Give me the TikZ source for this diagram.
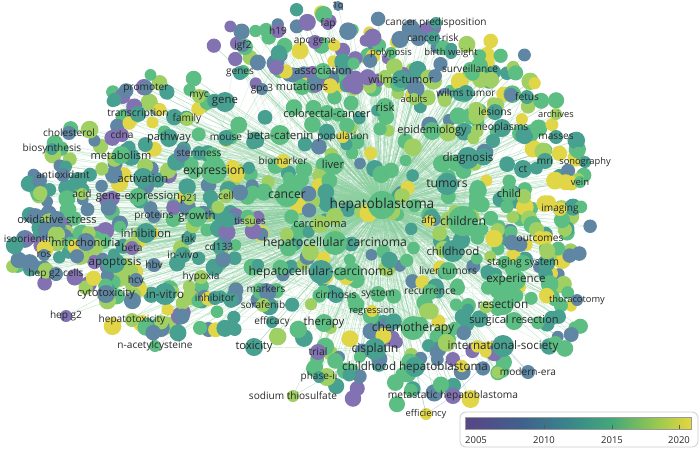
\documentclass[tikz,border=0pt]{standalone}
\usepackage{fontspec}
\setmainfont{Open Sans}
\definecolor{vA}{RGB}{130,114,178}
\definecolor{vB}{RGB}{95,134,162}
\definecolor{vC}{RGB}{72,160,145}
\definecolor{vD}{RGB}{92,190,130}
\definecolor{vE}{RGB}{160,208,100}
\definecolor{vF}{RGB}{224,214,72}
\definecolor{edgec}{RGB}{140,208,160}
\definecolor{edgeblue}{RGB}{120,140,190}
\definecolor{lblc}{RGB}{40,40,40}
\definecolor{legb}{RGB}{205,205,205}
\pgfdeclarehorizontalshading{viridisbar}{100bp}{rgb(0bp)=(0.35,0.27,0.53); rgb(25bp)=(0.35,0.27,0.53); rgb(37.5bp)=(0.25,0.38,0.55); rgb(47.5bp)=(0.22,0.52,0.55); rgb(57.5bp)=(0.26,0.66,0.47); rgb(67.5bp)=(0.60,0.79,0.31); rgb(75bp)=(0.90,0.84,0.24); rgb(100bp)=(0.90,0.84,0.24)}
\pgfmathdeclarerandomlist{pcore}{{vB}{vC}{vC}{vC}{vD}{vD}{vD}{vD}{vD}{vE}{vE}{vF}}
\pgfmathdeclarerandomlist{pleft}{{vA}{vB}{vB}{vC}{vC}{vC}{vD}{vD}{vE}{vE}{vF}}
\pgfmathdeclarerandomlist{ptop}{{vA}{vA}{vA}{vB}{vB}{vC}{vD}{vD}{vE}{vF}}
\pgfmathdeclarerandomlist{pright}{{vB}{vC}{vC}{vD}{vD}{vD}{vE}{vE}{vF}{vF}}
\pgfmathdeclarerandomlist{pbot}{{vA}{vB}{vB}{vC}{vD}{vD}{vE}{vF}}
\pgfmathdeclarerandomlist{hubs}{{cancer}{hcca}{hccb}{children}{chemotherapy}{expression}{liver}{tumors}{hb}{hb}}
\tikzset{
  edge/.style={draw=edgec, line width=0.45pt, opacity=0.5},
  edgeb/.style={draw=edgec, line width=0.4pt, opacity=0.32},
  edgebl/.style={draw=edgeblue, line width=0.45pt, opacity=0.4},
  lbl/.style={text=lblc, inner sep=0pt},
  yearlbl/.style={text=lblc, font=\fontsize{9.5}{11}\selectfont, inner sep=0pt},
}
\newif\ifcloudedges
% filler cloud: prefix, count, cx, cy, rx, ry, palette
\newcommand\fillcloud[7]{%
  \foreach \k in {1,...,#2}{%
    \pgfmathsetmacro\ang{360*rnd}%
    \pgfmathsetmacro\rr{sqrt(rnd)}%
    \pgfmathsetmacro\px{#3+#5*\rr*cos(\ang)}%
    \pgfmathsetmacro\py{#4+#6*\rr*sin(\ang)}%
    \pgfmathsetmacro\rad{5.8+3.2*rnd}%
    \pgfmathrandomitem\col{#7}%
    \pgfmathrandomitem\hub{hubs}%
    \ifcloudedges
      \coordinate (#1-\k) at (\px,\py);
      \draw[edge] (hb) -- (#1-\k);
      \draw[edgeb] (\hub) -- (#1-\k);
    \else
      \fill[fill=\col] (#1-\k) circle (\rad);
    \fi
  }%
}
\newcommand\allclouds{%
\fillcloud{a}{230}{370}{215}{165}{150}{pcore}%
\fillcloud{b}{160}{140}{205}{120}{95}{pleft}%
\fillcloud{c}{30}{55}{255}{50}{30}{pleft}%
\fillcloud{d}{90}{330}{50}{125}{42}{ptop}%
\fillcloud{e}{50}{475}{85}{65}{50}{pright}%
\fillcloud{f}{100}{530}{200}{62}{115}{pright}%
\fillcloud{g}{60}{410}{365}{105}{42}{pbot}%
\fillcloud{h}{40}{175}{310}{85}{30}{pleft}%
\fillcloud{i}{18}{560}{315}{25}{35}{pright}%
\fillcloud{j}{22}{170}{95}{60}{25}{pleft}%
}
% name / x / y / radius / colour / font size / text
\newcommand\kwlist{%
hb/382/205/14/vD/13.7/hepatoblastoma,
cancer/287/195/12/vD/12.2/cancer,
hcca/335/243/12/vD/12.2/hepatocellular carcinoma,
hccb/321/272/12/vC/12.2/hepatocellular-carcinoma,
children/463/221/15/vD/12.2/children,
chemotherapy/413/328/12/vD/12.2/chemotherapy,
expression/214/171/13/vD/12.2/expression,
liver/333/164/11/vD/11.2/liver,
tumors/447/184/11/vC/12.2/tumors,
cisplatin/375/349/11/vC/12.2/cisplatin,
oneq/338/6/5/vB/9.3/1q,
fap/328/24/6/vA/10.1/fap,
cancerpred/436/23/6/vC/10.1/cancer predisposition,
hnineteen/278/31/7/vA/10.1/h19,
apcgene/315/42/7/vA/10.1/apc gene,
cancerrisk/433/38/7/vC/10.1/cancer-risk,
igf/243/46/6/vB/10.1/igf2,
polyposis/391/53/6/vD/9.5/polyposis,
birthweight/451/53/6/vC/9.5/birth weight,
genes/240/73/7/vC/10.1/genes,
association/323/71/8/vD/11/association,
surveillance/470/69/7/vD/10.1/surveillance,
wilmsa/401/79/9/vC/11/wilms-tumor,
gpc/262/89/6/vB/10.1/gpc3,
mutations/302/87/8/vD/11/mutations,
adults/414/99/6/vE/9.3/adults,
wilmsb/466/93/8/vC/10.1/wilms tumor,
fetus/527/97/7/vC/10.1/fetus,
promoter/146/88/7/vB/10.1/promoter,
myc/199/96/7/vE/10.1/myc,
gene/225/102/10/vC/11.4/gene,
risk/385/107/9/vD/11.4/risk,
colorectal/327/113/8/vD/11/colorectal-cancer,
family/187/119/7/vE/10.1/family,
transcription/138/114/8/vC/10.3/transcription,
lesions/495/112/8/vC/10.3/lesions,
archives/556/114/6/vE/9.3/archives,
cholesterol/69/133/7/vB/10.1/cholesterol,
cdna/122/135/7/vA/10.1/cdna,
pathway/169/138/9/vC/11/pathway,
mouse/226/138/8/vC/10.1/mouse,
betacatenin/280/135/10/vD/11.4/beta-catenin,
population/343/137/6/vF/10.1/population,
epidemiology/432/131/9/vD/11/epidemiology,
neoplasms/502/128/9/vC/10.4/neoplasms,
masses/556/137/7/vC/10.1/masses,
biosynthesis/52/149/6/vC/10.1/biosynthesis,
metabolism/121/155/9/vD/11/metabolism,
stemness/199/153/7/vC/10.1/stemness,
biomarker/283/161/7/vF/10.1/biomarker,
diagnosis/468/158/11/vC/11.6/diagnosis,
mri/545/161/8/vC/10.1/mri,
sonography/585/162/6/vC/9.3/sonography,
ct/523/169/9/vC/10.3/ct,
antioxidant/63/175/7/vB/10.1/antioxidant,
activation/143/178/10/vC/11.2/activation,
vein/580/182/6/vD/9.5/vein,
child/509/193/9/vD/11/child,
acid/82/194/6/vE/10.1/acid,
geneexpression/138/197/9/vD/11/gene-expression,
ptwentyone/189/199/6/vE/10.1/p21,
cell/226/196/7/vE/10.1/cell,
imaging/560/209/7/vF/10.1/imaging,
oxstress/57/219/8/vB/11/oxidative stress,
proteins/154/216/7/vB/10.1/proteins,
growth/197/217/10/vD/11.4/growth,
tissues/250/221/6/vE/9.8/tissues,
carcinoma/320/224/9/vE/11/carcinoma,
afp/429/221/6/vF/10.1/afp,
isoorientin/29/239/6/vA/10.1/isoorientin,
mitochondria/86/242/9/vB/11/mitochondria,
inhibition/146/233/10/vC/11.4/inhibition,
fak/188/239/6/vC/10.1/fak,
cdonethree/219/247/7/vC/10.1/cd133,
outcomes/540/238/7/vF/10.1/outcomes,
beta/132/248/7/vA/10.1/beta,
childhood/453/251/11/vC/11.4/childhood,
invivo/183/255/8/vC/10.3/in-vivo,
ros/44/255/6/vB/10.1/ros,
apoptosis/115/263/10/vC/11.6/apoptosis,
hbv/154/265/7/vB/10.1/hbv,
staging/523/263/8/vD/10.4/staging system,
livertumors/448/271/9/vD/10.3/liver tumors,
hepgcells/56/274/7/vB/10.1/hep g2 cells,
hypoxia/201/277/7/vE/10.1/hypoxia,
hcv/136/280/7/vB/10.1/hcv,
experience/516/280/10/vD/11.6/experience,
markers/266/289/6/vB/10.1/markers,
recurrence/430/292/8/vD/10.3/recurrence,
cirrhosis/336/295/8/vC/10.3/cirrhosis,
system/378/294/8/vD/10.3/system,
cytotoxicity/106/294/9/vB/11/cytotoxicity,
invitro/165/294/11/vC/11.6/in-vitro,
inhibitor/215/298/7/vC/10.1/inhibitor,
thoracotomy/577/300/6/vB/9.3/thoracotomy,
resection/503/304/11/vD/11.8/resection,
sorafenib/263/305/7/vE/10.1/sorafenib,
regression/372/311/6/vF/9.3/regression,
hepg/66/316/6/vA/10.1/hep g2,
hepatotoxicity/132/320/7/vE/10.1/hepatotoxicity,
surgres/514/321/9/vD/11/surgical resection,
efficacy/272/322/6/vC/10.1/efficacy,
therapy/324/323/9/vD/11.4/therapy,
nac/155/346/6/vD/10.1/n-acetylcysteine,
intsoc/503/346/11/vC/11.6/international-society,
toxicity/254/347/9/vC/11.2/toxicity,
trial/318/352/8/vA/10.3/trial,
childhb/415/367/10/vC/11.6/childhood hepatoblastoma,
modernera/528/372/7/vB/10.1/modern-era,
phaseii/319/377/6/vC/10.1/phase-ii,
sodium/293/396/6/vE/10.1/sodium thiosulfate,
metastatic/453/396/8/vA/10.2/metastatic hepatoblastoma,
efficiency/426/414/6/vF/9.3/efficiency}
\begin{document}
\begin{tikzpicture}[x=1pt,y=-1pt]
\useasboundingbox[fill=white] (0,0) rectangle (700,448);
% pass 0: keyword positions
\foreach \n/\x/\y/\r/\c/\f/\t in \kwlist { \coordinate (\n) at (\x,\y); }
% pass 1: connectors
\foreach \n/\x/\y/\r/\c/\f/\t in \kwlist { \draw[edge] (hb) -- (\n); }
\foreach \a/\b in {cancer/hcca,cancer/expression,cancer/liver,cancer/growth,cancer/gene,cancer/betacatenin,cancer/apoptosis,hcca/hccb,hccb/therapy,hccb/sorafenib,hccb/toxicity,hcca/cirrhosis,chemotherapy/cisplatin,chemotherapy/resection,chemotherapy/surgres,chemotherapy/intsoc,children/tumors,children/childhood,children/diagnosis,children/child,children/imaging,expression/apoptosis,expression/invitro,expression/metabolism,expression/activation,cisplatin/sodium,cisplatin/toxicity,cisplatin/trial,cisplatin/phaseii,liver/risk,risk/wilmsa,tumors/epidemiology,resection/experience,resection/staging,invitro/nac,invitro/hepatotoxicity,cytotoxicity/hepg,therapy/trial,cisplatin/childhb}
  { \draw[edge] (\a) -- (\b); }
\foreach \a/\b in {childhb/metastatic,childhb/modernera,childhb/intsoc,childhb/efficiency,metastatic/intsoc,childhb/resection,modernera/intsoc,metastatic/efficiency,chemotherapy/metastatic}
  { \draw[edgebl] (\a) -- (\b); }
\pgfmathsetseed{7}
\cloudedgestrue
\allclouds
% pass 2: filler circles (same random sequence)
\pgfmathsetseed{7}
\cloudedgesfalse
\allclouds
% pass 3: keyword circles
\foreach \n/\x/\y/\r/\c/\f/\t in \kwlist { \fill[fill=\c] (\n) circle (\r); }
% pass 4: keyword labels
\foreach \n/\x/\y/\r/\c/\f/\t in \kwlist {
  \node[lbl, font=\fontsize{\f}{\f}\selectfont] (\n-l) at (\x,\y) {\t};
}
% legend
\draw[draw=legb, fill=white, rounded corners=6pt, line width=0.8pt] (460,412) rectangle (698,447);
\shade[shading=viridisbar] (465,417) rectangle (691,429);
\draw[draw=gray!80, line width=0.5pt] (465,417) rectangle (691,429);
\foreach \xx/\yy in {476/2005,544/2010,612/2015,679/2020}{
  \draw[draw=gray!70!black, line width=0.5pt] (\xx,424.5) -- (\xx,429);
  \node[yearlbl] (yr\yy) at (\xx,440) {\yy};
}
\end{tikzpicture}
\end{document}
